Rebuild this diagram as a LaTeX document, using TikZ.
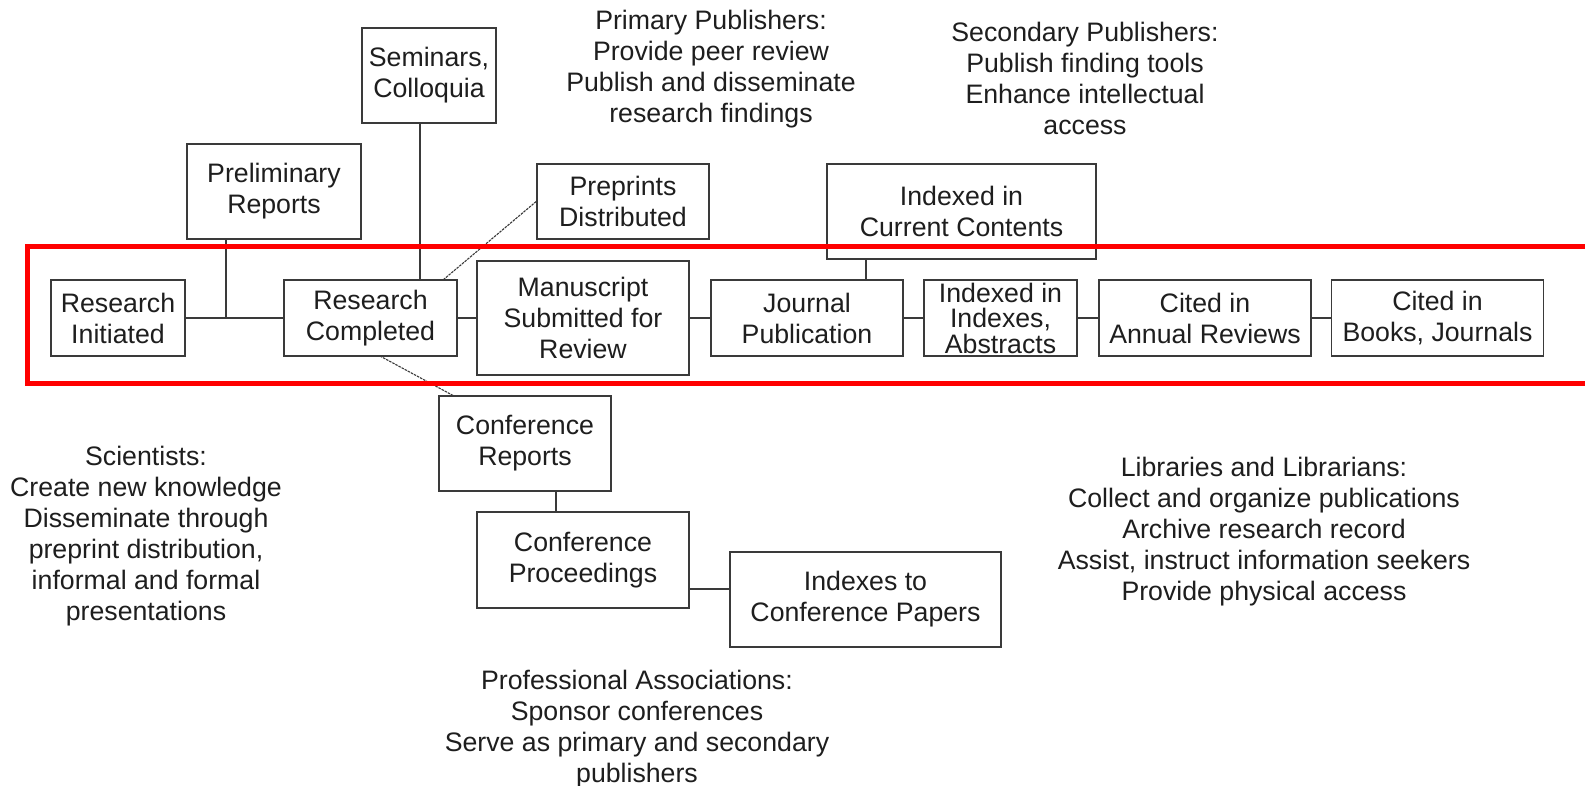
\documentclass[tikz,border=0pt]{standalone}
\usepackage{fontspec}
\setmainfont{Liberation Sans}
\definecolor{boxc}{HTML}{3A3A3A}
\definecolor{txt}{HTML}{1E1E1E}
\newcommand\boxfs{\fontsize{26.7pt}{31pt}\selectfont}
\newcommand\tightfs{\fontsize{26.7pt}{25.5pt}\selectfont}
\begin{document}
\begin{tikzpicture}[x=1pt,y=-1pt,
  box/.style={draw=boxc, line width=1.6pt, inner sep=0pt, align=center, text=txt, font=\boxfs},
  note/.style={inner sep=0pt, align=center, text=txt, font=\boxfs},
  link/.style={draw=boxc, line width=1.4pt},
  dlink/.style={draw=boxc, line width=1.1pt, dash pattern=on 2.5pt off 1pt}]
\path[use as bounding box, fill=white] (0,0) rectangle (1585,786);

% boxes
\node[box, minimum width=134pt, minimum height=76pt] (RI) at (118,318) {Research\\Initiated};
\node[box, minimum width=174pt, minimum height=95pt] (PR) at (274,191.5) {Preliminary\\Reports};
\node[box, minimum width=134pt, minimum height=95pt] (SC) at (429,75.5) {Seminars,\\Colloquia};
\node[box, minimum width=173pt, minimum height=76pt] (RC) at (370.5,318) {Research\\Completed};
\node[box, minimum width=172pt, minimum height=75pt] (PD) at (623,201.5) {Preprints\\Distributed};
\node[box, minimum width=212pt, minimum height=114pt] (MS) at (583,318) {Manuscript\\Submitted for\\Review};
\node[box, minimum width=269pt, minimum height=95pt] (CC) at (961.5,211.5) {Indexed in\\Current Contents};
\node[box, minimum width=192pt, minimum height=76pt] (JP) at (807,318) {Journal\\Publication};
\node[box, minimum width=153pt, minimum height=76pt, font=\tightfs] (II) at (1000.5,318) {Indexed in\\Indexes,\\Abstracts};
\node[box, minimum width=212pt, minimum height=76pt] (CA) at (1205,318) {Cited in\\Annual Reviews};
\node[box, minimum width=212pt, minimum height=76pt] (CB) at (1437.5,318) {Cited in\\Books, Journals};
\node[box, minimum width=172pt, minimum height=95pt] (CR) at (525,443.5) {Conference\\Reports};
\node[box, minimum width=212pt, minimum height=96pt] (CP) at (583,560) {Conference\\Proceedings};
\node[box, minimum width=271pt, minimum height=95pt] (IC) at (865.5,599.5) {Indexes to\\Conference Papers};

% annotation texts
\node[note] (primary) at (711,69) {Primary Publishers:\\Provide peer review\\Publish and disseminate\\research findings};
\node[note] (secondary) at (1085,78) {Secondary Publishers:\\Publish finding tools\\Enhance intellectual\\access};
\node[note] (scientists) at (146,536) {Scientists:\\Create new knowledge\\Disseminate through\\preprint distribution,\\informal and formal\\presentations};
\node[note] (libraries) at (1264,532) {Libraries and Librarians:\\Collect and organize publications\\Archive research record\\Assist, instruct information seekers\\Provide physical access};
\node[note] (profassoc) at (637,729) {Professional Associations:\\Sponsor conferences\\Serve as primary and secondary\\publishers};

% junction coordinates
\coordinate (jPR) at (226,318);
\coordinate (jSC) at (420,280);
\coordinate (jPD) at (443,280);
\coordinate (jCRa) at (380,356);
\coordinate (jCRb) at (454,396);
\coordinate (jCC) at (866,0);
\coordinate (jCP) at (556,0);
\coordinate (jIC) at (0,589);

% connectors
\draw[link] (RI) -- (RC);
\draw[link] (jPR |- PR.south) -- (jPR);
\draw[link] (jSC |- SC.south) -- (jSC);
\draw[dlink] (PD.west) -- (jPD);
\draw[dlink] (jCRa) -- (jCRb);
\draw[link] (RC) -- (MS);
\draw[link] (MS) -- (JP);
\draw[link] (jCC |- JP.north) -- (jCC |- CC.south);
\draw[link] (JP) -- (II);
\draw[link] (II) -- (CA);
\draw[link] (CA) -- (CB);
\draw[link] (jCP |- CR.south) -- (jCP |- CP.north);
\draw[link] (CP.east |- jIC) -- (IC.west |- jIC);

% red highlight
\begin{scope}
\clip (0,0) rectangle (1585,786);
\draw[red, line width=5pt] (27,247) rectangle (1640,383.5);
\end{scope}
\end{tikzpicture}
\end{document}
